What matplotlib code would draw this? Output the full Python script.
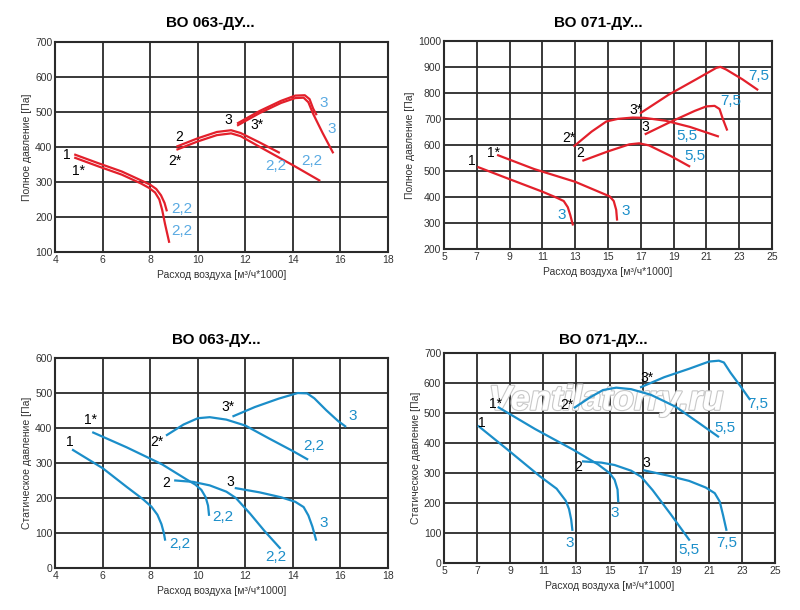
import matplotlib
matplotlib.use('Agg')
import matplotlib.pyplot as plt
import matplotlib.patheffects as pe

plt.rcParams['font.family'] = ['Liberation Sans', 'DejaVu Sans']

RED = '#e3202b'
BLUE = '#1b8ec9'
LBLUE = '#5aaae2'

titles = ['ВО 063-ДУ...', 'ВО 071-ДУ...', 'ВО 063-ДУ...', 'ВО 071-ДУ...']
x_label = 'Расход воздуха [м³/ч*1000]'
y_label_full = 'Полное давление [Па]'
y_label_static = 'Статическое давление [Па]'

# --- top left: ВО 063, total pressure
tl_1_x = [4.8, 5.8, 6.8, 7.6, 8.0, 8.25, 8.45, 8.6, 8.7]
tl_1_y = [379, 354, 330, 305, 292, 280, 262, 240, 216]
tl_1s_x = [4.8, 5.8, 6.8, 7.6, 7.95, 8.2, 8.38, 8.5, 8.62, 8.8]
tl_1s_y = [370, 345, 321, 296, 283, 270, 250, 220, 180, 126]
tl_2_x = [9.1, 10.0, 10.8, 11.4, 11.8, 12.6, 13.45]
tl_2_y = [401, 425, 443, 448, 440, 413, 383]
tl_2s_x = [9.1, 10.0, 10.8, 11.4, 11.8, 12.8, 14.0, 15.15]
tl_2s_y = [392, 416, 434, 439, 431, 393, 348, 303]
tl_3_x = [11.65, 12.6, 13.5, 14.1, 14.5, 14.7, 14.85, 15.0]
tl_3_y = [467, 503, 532, 547, 548, 537, 510, 491]
tl_3s_x = [11.65, 12.6, 13.5, 14.1, 14.45, 14.65, 14.85, 15.25, 15.7]
tl_3s_y = [461, 497, 526, 540, 541, 528, 495, 440, 382]

# --- top right: ВО 071, total pressure
tr_1_x = [7.1, 9.0, 11.0, 11.9, 12.3, 12.55, 12.7, 12.85]
tr_1_y = [514, 468, 420, 396, 384, 360, 330, 294]
tr_1s_x = [8.3, 10.5, 13.0, 15.1, 15.35, 15.5, 15.55]
tr_1s_y = [560, 507, 458, 402, 384, 350, 313]
tr_2s_x = [12.95, 14.0, 14.9, 15.6, 16.5, 17.2, 18.5, 20.0, 21.7]
tr_2s_y = [596, 651, 690, 700, 705, 704, 693, 669, 633]
tr_2_x = [13.5, 15.0, 16.3, 16.9, 17.5, 18.8, 19.95]
tr_2_y = [540, 575, 602, 606, 598, 558, 518]
tr_3_x = [17.3, 18.8, 20.3, 21.0, 21.5, 21.8, 22.0, 22.25]
tr_3_y = [642, 688, 731, 748, 750, 738, 700, 659]
tr_3s_x = [17.0, 18.7, 20.4, 21.6, 21.85, 22.2, 23.2, 24.1]
tr_3s_y = [723, 793, 853, 896, 900, 890, 852, 813]

# --- bottom left: ВО 063, static pressure
bl_1_x = [4.75, 6.0, 7.0, 7.7, 8.05, 8.3, 8.47, 8.57, 8.62]
bl_1_y = [337, 285, 232, 196, 175, 152, 125, 100, 81]
bl_1s_x = [5.6, 7.0, 8.5, 9.5, 9.9, 10.15, 10.33, 10.43, 10.47]
bl_1s_y = [387, 345, 296, 254, 238, 223, 202, 178, 152]
bl_2_x = [9.05, 9.8, 10.5, 11.2, 11.6, 12.2, 12.8, 13.45]
bl_2_y = [250, 246, 236, 218, 200, 155, 106, 57]
bl_3_x = [11.6, 12.6, 13.5, 14.1, 14.45, 14.65, 14.82, 14.97]
bl_3_y = [228, 216, 202, 189, 174, 150, 118, 81]
bl_2s_x = [8.7, 9.4, 10.0, 10.5, 11.2, 12.0, 13.0, 14.0, 14.6]
bl_2s_y = [380, 410, 428, 431, 424, 407, 370, 334, 311]
bl_3s_x = [11.5, 12.4, 13.4, 14.2, 14.6, 14.9, 15.4, 15.9, 16.2]
bl_3s_y = [434, 460, 484, 500, 499, 485, 451, 420, 405]

# --- bottom right: ВО 071, static pressure
br_1_x = [7.1, 8.8, 10.8, 11.8, 12.35, 12.55, 12.68, 12.75]
br_1_y = [456, 380, 289, 248, 208, 180, 145, 111]
br_1s_x = [8.3, 10.5, 12.8, 14.3, 15.0, 15.3, 15.48, 15.52]
br_1s_y = [519, 447, 378, 329, 300, 278, 245, 206]
br_2_x = [13.4, 14.5, 15.3, 16.3, 16.9, 17.6, 18.7, 19.8]
br_2_y = [339, 335, 327, 308, 288, 243, 162, 78]
br_3_x = [17.1, 18.5, 19.8, 20.8, 21.35, 21.65, 21.85, 22.05]
br_3_y = [309, 292, 274, 252, 233, 205, 160, 111]
br_2s_x = [12.9, 13.8, 14.6, 15.4, 16.3, 17.5, 19.0, 20.5, 21.55]
br_2s_y = [519, 552, 577, 585, 580, 561, 521, 463, 422]
br_3s_x = [16.9, 18.3, 19.8, 21.0, 21.6, 21.9, 22.3, 22.9, 23.45]
br_3s_y = [587, 620, 648, 672, 675, 669, 635, 590, 547]

fig = plt.figure(figsize=(8, 6.1), dpi=100)

boxes = [[0.069, 0.587, 0.416, 0.344],
         [0.555, 0.592, 0.410, 0.341],
         [0.069, 0.069, 0.416, 0.344],
         [0.555, 0.077, 0.414, 0.344]]
xlims = [(4, 18), (5, 25), (4, 18), (5, 25)]
ylims = [(100, 700), (200, 1000), (0, 600), (0, 700)]
title_pos = [(0.2625, 0.962), (0.7475, 0.962), (0.271, 0.443), (0.754, 0.443)]

axes = []
for i in range(4):
    ax = fig.add_axes(boxes[i])
    x0, x1 = xlims[i]
    y0, y1 = ylims[i]
    ax.set_xlim(x0, x1)
    ax.set_ylim(y0, y1)
    ax.set_xticks(range(x0, x1 + 1, 2))
    ax.set_yticks(range(y0, y1 + 1, 100))
    ax.grid(True, color='#2a2a2a', lw=1.3)
    ax.set_axisbelow(True)
    for s in ax.spines.values():
        s.set_linewidth(1.5)
        s.set_color('#2a2a2a')
    ax.tick_params(length=0, labelsize=7.5, pad=2, colors='#333333')
    ax.set_xlabel(x_label, fontsize=7.5, color='#333333', labelpad=4)
    ax.set_ylabel(y_label_full if i < 2 else y_label_static,
                  fontsize=7.5, color='#333333', labelpad=2)
    fig.text(title_pos[i][0], title_pos[i][1], titles[i], ha='center',
             va='center', fontsize=11, fontweight='bold')
    axes.append(ax)

ax_tl, ax_tr, ax_bl, ax_br = axes


def label(ax, x, y, s, color='black', size=10):
    ax.text(x, y, s, color=color, fontsize=size, ha='center', va='center',
            zorder=4)


# top left
for xs, ys in [(tl_1_x, tl_1_y), (tl_1s_x, tl_1s_y), (tl_2_x, tl_2_y),
               (tl_2s_x, tl_2s_y), (tl_3_x, tl_3_y), (tl_3s_x, tl_3s_y)]:
    ax_tl.plot(xs, ys, color=RED, lw=1.6, solid_capstyle='butt')
label(ax_tl, 4.47, 376, '1')
label(ax_tl, 4.98, 330, '1*')
label(ax_tl, 9.2, 430, '2')
label(ax_tl, 9.05, 360, '2*')
label(ax_tl, 11.27, 477, '3')
label(ax_tl, 12.5, 463, '3*')
for x, y, s in [(9.33, 222, '2,2'), (9.33, 161, '2,2'), (13.26, 347, '2,2'),
                (14.8, 360, '2,2'), (15.29, 527, '3'), (15.64, 451, '3')]:
    label(ax_tl, x, y, s, LBLUE, 11)

# top right
for xs, ys in [(tr_1_x, tr_1_y), (tr_1s_x, tr_1s_y), (tr_2_x, tr_2_y),
               (tr_2s_x, tr_2s_y), (tr_3_x, tr_3_y), (tr_3s_x, tr_3s_y)]:
    ax_tr.plot(xs, ys, color=RED, lw=1.6)
label(ax_tr, 6.67, 537, '1')
label(ax_tr, 8.0, 567, '1*')
label(ax_tr, 12.6, 627, '2*')
label(ax_tr, 13.3, 569, '2')
label(ax_tr, 16.7, 736, '3*')
label(ax_tr, 17.3, 669, '3')
for x, y, s in [(12.2, 332, '3'), (16.08, 345, '3'), (19.8, 633, '5,5'),
                (20.3, 559, '5,5'), (22.5, 768, '7,5'), (24.2, 864, '7,5')]:
    label(ax_tr, x, y, s, BLUE, 11)

# bottom left
for xs, ys in [(bl_1_x, bl_1_y), (bl_1s_x, bl_1s_y), (bl_2_x, bl_2_y),
               (bl_3_x, bl_3_y), (bl_2s_x, bl_2s_y), (bl_3s_x, bl_3s_y)]:
    ax_bl.plot(xs, ys, color=BLUE, lw=1.6)
label(ax_bl, 4.63, 361, '1')
label(ax_bl, 5.47, 423, '1*')
label(ax_bl, 8.28, 361, '2*')
label(ax_bl, 8.66, 242, '2')
label(ax_bl, 11.36, 247, '3')
label(ax_bl, 11.27, 461, '3*')
for x, y, s in [(9.26, 67, '2,2'), (11.07, 145, '2,2'), (13.26, 30, '2,2'),
                (15.3, 128, '3'), (14.86, 348, '2,2'), (16.5, 434, '3')]:
    label(ax_bl, x, y, s, BLUE, 11)

# bottom right
ax_br.text(14.8, 543, 'Ventilatorry.ru', ha='center', va='center',
           fontsize=25, style='italic', fontweight='bold', color='white',
           path_effects=[pe.withStroke(linewidth=1.6, foreground='#c8c8c8')],
           zorder=1.5)
for xs, ys in [(br_1_x, br_1_y), (br_1s_x, br_1s_y), (br_2_x, br_2_y),
               (br_3_x, br_3_y), (br_2s_x, br_2s_y), (br_3s_x, br_3s_y)]:
    ax_br.plot(xs, ys, color=BLUE, lw=1.6, zorder=2)
label(ax_br, 7.26, 467, '1')
label(ax_br, 8.13, 530, '1*')
label(ax_br, 12.4, 526, '2*')
label(ax_br, 13.1, 322, '2')
label(ax_br, 17.24, 617, '3*')
label(ax_br, 17.24, 333, '3')
for x, y, s in [(12.6, 68, '3'), (15.3, 168, '3'), (19.8, 44, '5,5'),
                (22.1, 68, '7,5'), (21.95, 450, '5,5'), (23.95, 530, '7,5')]:
    label(ax_br, x, y, s, BLUE, 11)

fig.savefig('out.png', dpi=100)
